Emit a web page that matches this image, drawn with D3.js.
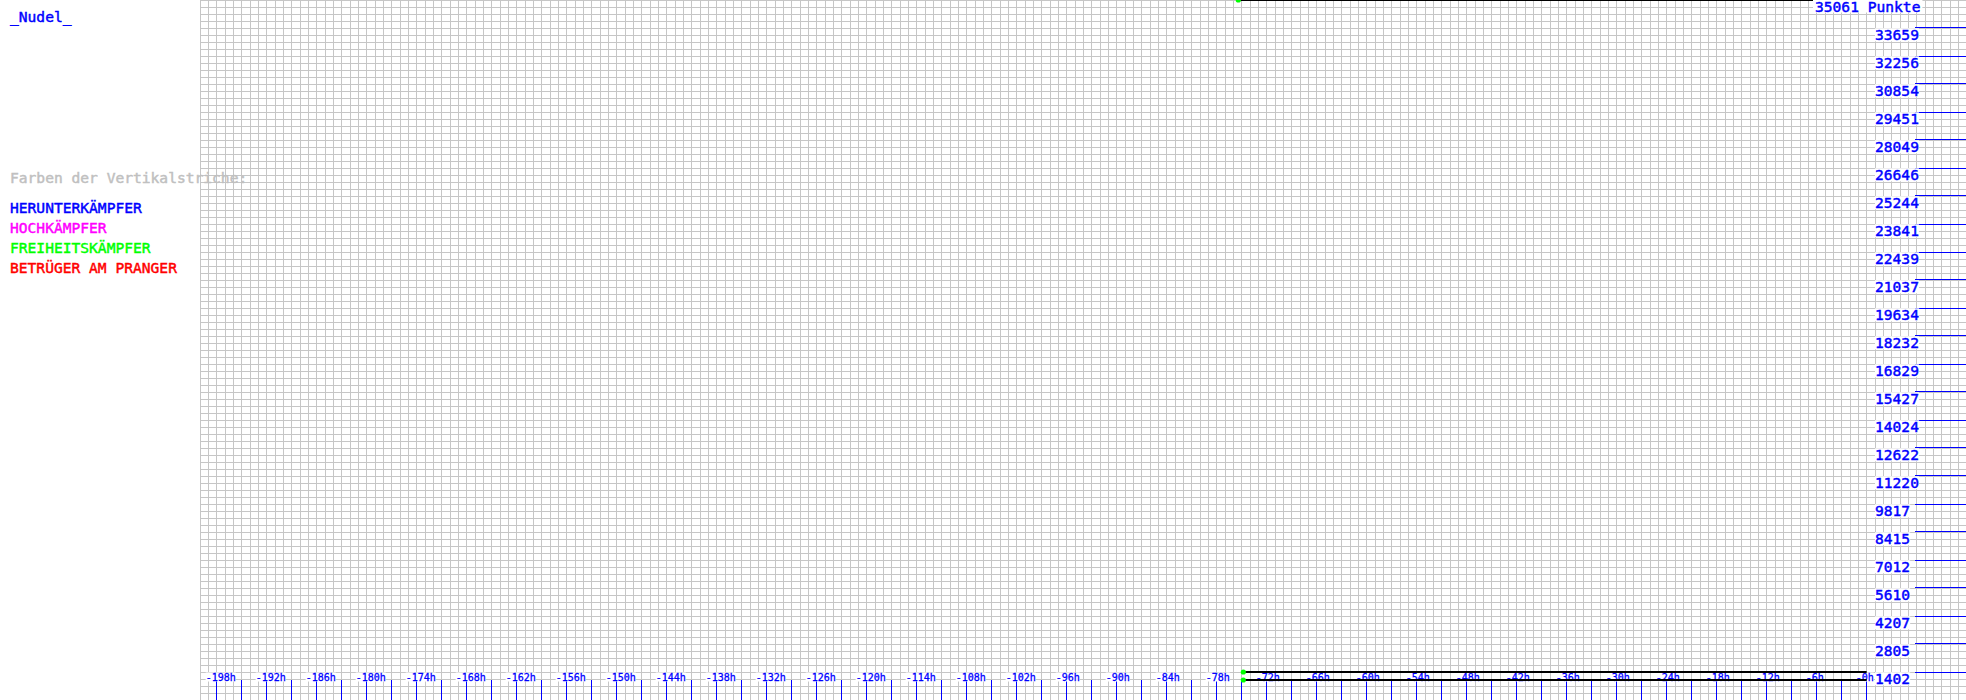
<!DOCTYPE html>
<html><head><meta charset="utf-8">
<script src="https://cdn.jsdelivr.net/npm/d3@7"></script>
<style>
html,body{margin:0;padding:0;background:#fff;}
svg{display:block;}
text{font-family:"DejaVu Sans Mono",monospace;}
</style></head>
<body>
<svg id="c" width="1966" height="700"></svg>
<script>
// ---- data ----
const playerName = "_Nudel_";
const legendTitle = "Farben der Vertikalstriche:";
const legendItems = ["HERUNTERKÄMPFER", "HOCHKÄMPFER", "FREIHEITSKÄMPFER", "BETRÜGER AM PRANGER"];
const legendColors = ["#0000ff", "#ff00ff", "#00ff00", "#ff0000"];
const yMax = 35061;
const yTickValues = [1402, 2805, 4207, 5610, 7012, 8415, 9817, 11220, 12622, 14024, 15427, 16829,
  18232, 19634, 21037, 22439, 23841, 25244, 26646, 28049, 29451, 30854, 32256, 33659];
const xTickHours = [-198, -192, -186, -180, -174, -168, -162, -156, -150, -144, -138, -132, -126,
  -120, -114, -108, -102, -96, -90, -84, -78, -72, -66, -60, -54, -48, -42, -36, -30, -24, -18, -12, -6, 0];
// series (flat lines)
const seriesTopHours = [-75.4, 0];
const seriesTopValues = [35061, 35061];
const seriesMidHours = [-74.8, 0];
const seriesMidValues = [1402, 1402];
const seriesLowHours = [-74.8, 0];
const seriesLowValues = [1002, 1002];

// ---- scales ----
const W = 1966, H = 700;
const x = d3.scaleLinear().domain([-200, 0]).range([200, 1866.67]);
const y = d3.scaleLinear().domain([0, yMax]).range([H, 0]);
const svg = d3.select("#c");
const big = { size: 14.6, stroke: 0.45 };

// grid
const grid = svg.append("g").attr("stroke", "#c6c6c6").attr("stroke-width", 1).attr("shape-rendering", "crispEdges");
grid.selectAll("line.v").data(d3.range(-200, 13, 1)).join("line").attr("class", "v")
  .attr("x1", d => x(d)).attr("x2", d => x(d)).attr("y1", 0).attr("y2", H);
grid.selectAll("line.h").data(d3.range(0, 101)).join("line").attr("class", "h")
  .attr("x1", x(-200)).attr("x2", W).attr("y1", d => y(yMax * d / 100)).attr("y2", d => y(yMax * d / 100));

// bottom blue ticks every 3h
svg.append("g").attr("stroke", "#0000ff").attr("shape-rendering", "crispEdges")
  .selectAll("line").data(d3.range(-198, 1, 3)).join("line")
  .attr("x1", d => x(d)).attr("x2", d => x(d)).attr("y1", 680).attr("y2", H);

// right blue tick segments
svg.append("g").attr("stroke", "#0000ff").attr("shape-rendering", "crispEdges")
  .selectAll("line").data(yTickValues).join("line")
  .attr("x1", 1915).attr("x2", W).attr("y1", d => y(d)).attr("y2", d => y(d));

// x labels
xTickHours.forEach(h => {
  const g = svg.append("g");
  const r = g.append("rect").attr("fill", "#fff");
  const t = g.append("text").attr("x", x(h) - 11).attr("y", 680.5)
    .attr("font-size", 10).attr("fill", "#0000ff").attr("stroke", "#0000ff").attr("stroke-width", 0.3)
    .text("-" + Math.abs(h) + "h");
  const bb = t.node().getBBox();
  r.attr("x", bb.x).attr("y", bb.y + 1).attr("width", bb.width).attr("height", bb.height - 2);
});

function bigText(sel, color) {
  return sel.attr("font-size", big.size).attr("fill", color)
    .attr("stroke", color).attr("stroke-width", big.stroke);
}

// y labels
yTickValues.forEach(v => {
  const g = svg.append("g");
  const r = g.append("rect").attr("fill", "#fff");
  const t = bigText(g.append("text").attr("x", 1875).attr("y", y(v) + 12.3), "#0000ff").text(v);
  const bb = t.node().getBBox();
  r.attr("x", bb.x).attr("y", bb.y + 2).attr("width", bb.width).attr("height", bb.height - 4);
});

// data lines
const line = d3.line().x(d => x(d[0])).y(d => y(d[1]));
const series = [
  d3.zip(seriesTopHours, seriesTopValues),
  d3.zip(seriesMidHours, seriesMidValues),
  d3.zip(seriesLowHours, seriesLowValues)
];
svg.append("g").selectAll("path").data(series).join("path")
  .attr("d", line).attr("fill", "none").attr("stroke", "#000").attr("stroke-width", 2);
svg.append("g").selectAll("circle").data(series).join("circle")
  .attr("cx", d => x(d[0][0])).attr("cy", d => y(d[0][1])).attr("r", 2.6).attr("fill", "#00ff00");

// top label
const tg = svg.append("g");
const tr = tg.append("rect").attr("fill", "#fff");
const topT = bigText(tg.append("text").attr("x", 1815).attr("y", 11.5), "#0000ff").text(yMax + " Punkte");
const tb = topT.node().getBBox();
tr.attr("x", tb.x - 2).attr("y", 0).attr("width", tb.width + 4).attr("height", 12.5);

// left legend
const lg = svg.append("g");
bigText(lg.append("text").attr("x", 10).attr("y", 21.5), "#0000ff").text(playerName);
bigText(lg.append("text").attr("x", 10).attr("y", 183), "#c0c0c0").text(legendTitle);
legendItems.forEach((d, i) => {
  bigText(lg.append("text").attr("x", 10).attr("y", 213 + i * 20), legendColors[i]).text(d);
});
</script>
</body></html>
